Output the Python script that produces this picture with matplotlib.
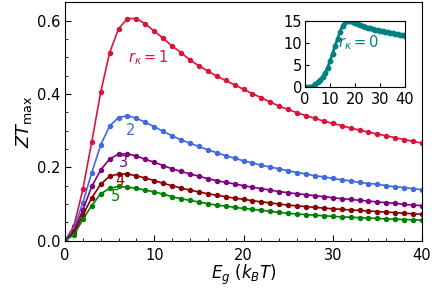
import matplotlib
matplotlib.use("Agg")
import matplotlib.pyplot as plt
from matplotlib.ticker import MultipleLocator

Eg = list(range(0, 41))

zt_r1 = [0.0, 0.04, 0.14, 0.27, 0.405, 0.513, 0.578, 0.606, 0.606, 0.591, 0.572,
         0.552, 0.531, 0.513, 0.493, 0.477, 0.463, 0.449, 0.437, 0.425, 0.413,
         0.401, 0.39, 0.378, 0.367, 0.358, 0.349, 0.341, 0.334, 0.326, 0.32,
         0.314, 0.307, 0.302, 0.296, 0.291, 0.286, 0.281, 0.276, 0.271, 0.266]
zt_r2 = [0.0, 0.032, 0.104, 0.186, 0.261, 0.313, 0.336, 0.341, 0.334, 0.323, 0.311,
         0.298, 0.286, 0.275, 0.266, 0.257, 0.248, 0.240, 0.232, 0.225, 0.218,
         0.212, 0.206, 0.201, 0.196, 0.191, 0.186, 0.182, 0.177, 0.174, 0.170,
         0.166, 0.163, 0.159, 0.156, 0.154, 0.150, 0.147, 0.145, 0.142, 0.139]
zt_r3 = [0.0, 0.026, 0.084, 0.148, 0.193, 0.223, 0.236, 0.237, 0.231, 0.222, 0.214,
         0.205, 0.196, 0.189, 0.182, 0.176, 0.169, 0.164, 0.159, 0.155, 0.150,
         0.146, 0.142, 0.138, 0.134, 0.131, 0.128, 0.1255, 0.1228, 0.120, 0.1174,
         0.1146, 0.1128, 0.110, 0.1083, 0.1055, 0.1037, 0.102, 0.099, 0.0974, 0.0955]
zt_r4 = [0.0, 0.02, 0.07, 0.117, 0.154, 0.176, 0.182, 0.182, 0.177, 0.171, 0.164,
         0.1565, 0.150, 0.1437, 0.138, 0.133, 0.128, 0.124, 0.120, 0.116, 0.113,
         0.109, 0.106, 0.103, 0.100, 0.097, 0.095, 0.093, 0.091, 0.089, 0.087,
         0.0855, 0.084, 0.0825, 0.081, 0.0795, 0.078, 0.0765, 0.075, 0.0735, 0.072]
zt_r5 = [0.0, 0.016, 0.058, 0.096, 0.128, 0.143, 0.148, 0.146, 0.143, 0.138, 0.133,
         0.127, 0.120, 0.1145, 0.110, 0.1055, 0.101, 0.097, 0.0946, 0.091, 0.088,
         0.0856, 0.083, 0.080, 0.077, 0.0747, 0.073, 0.071, 0.0695, 0.068, 0.0665,
         0.065, 0.064, 0.0628, 0.0617, 0.0606, 0.0596, 0.0587, 0.0578, 0.057, 0.0562]
zt_r0 = [0.0, 0.05, 0.15, 0.35, 0.7, 1.2, 1.75, 2.35, 3.2, 4.4, 5.85,
         7.6, 9.3, 10.9, 12.5, 13.9, 14.7, 15.0, 14.9, 14.6, 14.4,
         14.2, 14.0, 13.8, 13.6, 13.45, 13.3, 13.15, 13.0, 12.85, 12.72,
         12.6, 12.48, 12.37, 12.26, 12.15, 12.05, 11.95, 11.85, 11.75, 11.65]

series = [zt_r1, zt_r2, zt_r3, zt_r4, zt_r5]
colors = ["#DC143C", "#4169E1", "#800080", "#8B0000", "#008000"]
labels = ["$r_\\kappa=1$", "2", "3", "4", "5"]
label_pos = [(9.3, 0.50), (7.4, 0.30), (6.5, 0.213), (6.1, 0.163), (5.7, 0.12)]

fig = plt.figure(figsize=(4.36, 2.91), dpi=100)
ax = fig.add_axes([65/436, 50.3/291, 357/436, 238.3/291])
for y, c, lab, (tx, ty) in zip(series, colors, labels, label_pos):
    ax.plot(Eg, y, color=c, lw=1.2, marker="o", ms=2.9)
    ax.text(tx, ty, lab, color=c, fontsize=10.5, ha="center", va="center")
ax.set_xlim(0, 40)
ax.set_ylim(0, 0.65)
ax.set_xticks([0, 10, 20, 30, 40])
ax.set_yticks([0.0, 0.2, 0.4, 0.6])
ax.xaxis.set_minor_locator(MultipleLocator(2))
ax.yaxis.set_minor_locator(MultipleLocator(0.05))
ax.tick_params(which="both", direction="in", labelsize=10.5)
ax.tick_params(which="major", length=4)
ax.tick_params(which="minor", length=2)
ax.tick_params(axis="x", which="major", pad=5)
ax.set_xlabel("$E_g\\ (k_BT)$", fontsize=12, labelpad=0)
ax.set_ylabel("$ZT_{\\mathrm{max}}$", fontsize=13, labelpad=2)

ins = fig.add_axes([305/436, (291-87.3)/291, 100/436, 66.6/291])
ins.plot(Eg, zt_r0, color="#008080", lw=2.0, marker="o", ms=3.2)
ins.text(21.5, 10.1, "$r_\\kappa=0$", color="#008080", fontsize=10.5, ha="center", va="center")
ins.set_xlim(0, 40)
ins.set_ylim(0, 15)
ins.set_xticks([0, 10, 20, 30, 40])
ins.set_yticks([0, 5, 10, 15])
ins.tick_params(direction="in", labelsize=10.5, length=3, pad=2)
ins.tick_params(axis="x", pad=3.5)

fig.savefig("out.png", dpi=100)
